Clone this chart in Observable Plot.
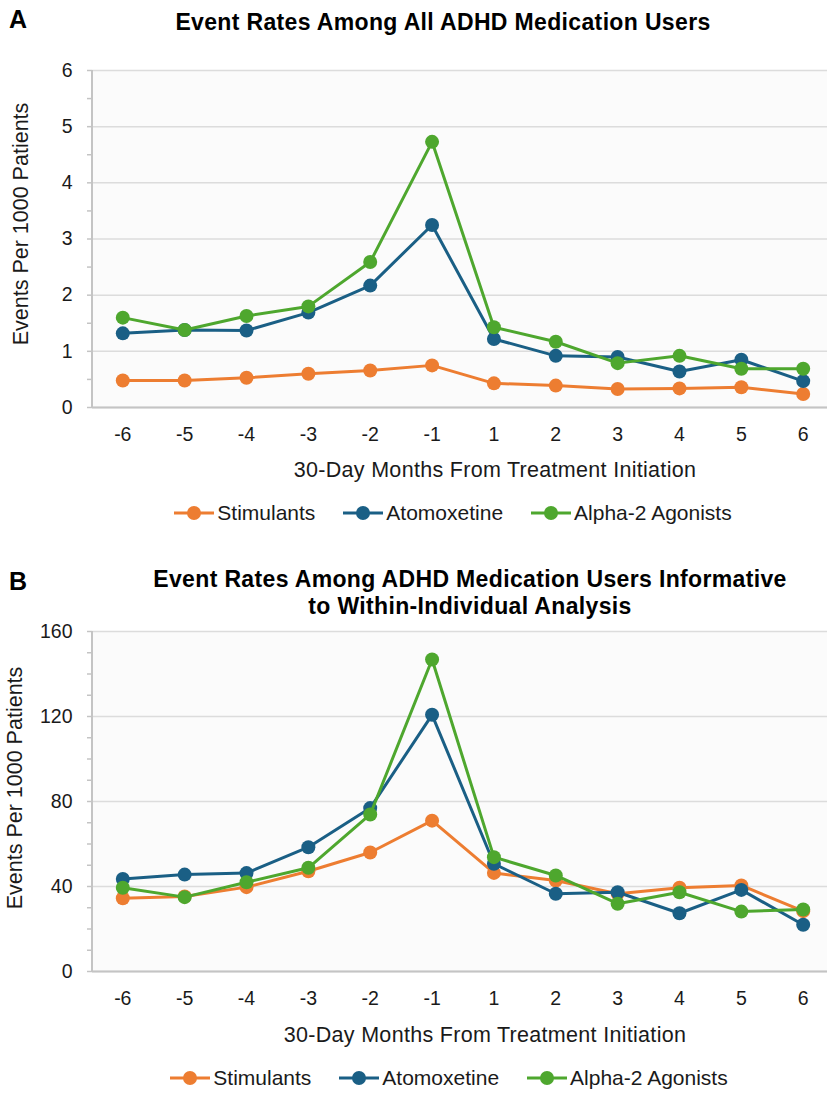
<!DOCTYPE html>
<html><head><meta charset="utf-8">
<script src="https://cdn.jsdelivr.net/npm/d3@7"></script>
<script src="https://cdn.jsdelivr.net/npm/@observablehq/plot@0.6"></script>
<style>
body{margin:0;background:#fff;font-family:"Liberation Sans",Arial,sans-serif;}
#root{position:relative;width:827px;height:1093px;overflow:hidden;background:#fff;}
.abs{position:absolute;line-height:1;white-space:nowrap;color:#111;}
.panelLetter{font-weight:bold;font-size:25px;color:#000;}
.title{font-weight:bold;font-size:23px;letter-spacing:0.35px;text-align:center;color:#000;}
.axt{font-size:21.5px;letter-spacing:0.3px;text-align:center;color:#1a1a1a;}
.ylab{font-size:21.5px;text-align:center;color:#1a1a1a;transform:translate(-50%,-50%) rotate(-90deg);}
.legend{display:flex;justify-content:center;align-items:center;height:24px;font-size:21px;color:#1a1a1a;line-height:24px;}
.legend .item{display:flex;align-items:center;margin:0 14px;}
.legend .item span{margin-left:3px;}
.svgwrap{position:absolute;left:0;}
</style></head><body><div id="root"></div>
<script>
// ---- data ----
const months = ["-6","-5","-4","-3","-2","-1","1","2","3","4","5","6"];
const seriesNames = ["Stimulants","Atomoxetine","Alpha-2 Agonists"];
const seriesColors = ["#ED7D31","#1A5F85","#4EA72E"];

// Panel A: all ADHD medication users
const stimA  = [0.48,0.48,0.53,0.60,0.66,0.75,0.43,0.39,0.33,0.34,0.36,0.24];
const atoA   = [1.32,1.38,1.37,1.69,2.17,3.25,1.22,0.92,0.90,0.64,0.85,0.47];
const alphaA = [1.60,1.38,1.63,1.80,2.59,4.73,1.43,1.17,0.79,0.92,0.69,0.69];

// Panel B: informative to within-individual analysis
const stimB  = [34.5,35.3,39.7,47.2,56.0,71.0,46.4,42.8,36.6,39.4,40.5,28.4];
const atoB   = [43.5,45.6,46.3,58.5,76.9,120.8,50.7,36.6,37.3,27.4,38.4,22.0];
const alphaB = [39.4,35.0,42.0,48.8,73.9,146.8,53.8,45.2,31.9,37.3,28.2,29.2];

const yTicksA = [0,1,2,3,4,5,6];
const yTicksB = [0,40,80,120,160];

const titleA = "Event Rates Among All ADHD Medication Users";
const titleB = ["Event Rates Among ADHD Medication Users Informative","to Within-Individual Analysis"];
const yLabel = "Events Per 1000 Patients";
const xLabel = "30-Day Months From Treatment Initiation";

const root = document.getElementById("root");
function addDiv(cls, text, style) {
  const d = document.createElement("div");
  d.className = "abs " + cls;
  if (Array.isArray(text)) d.innerHTML = text.map(t => `<div>${t}</div>`).join("");
  else d.textContent = text;
  Object.assign(d.style, style);
  root.appendChild(d);
  return d;
}

function legend(top, cx) {
  const d = document.createElement("div");
  d.className = "abs legend";
  Object.assign(d.style, {top: top + "px", left: (cx - 500) + "px", width: "1000px"});
  seriesNames.forEach((n, i) => {
    const it = document.createElement("div");
    it.className = "item";
    it.innerHTML = `<svg width="40" height="16"><line x1="0" x2="40" y1="8" y2="8" stroke="${seriesColors[i]}" stroke-width="3"/><circle cx="20" cy="8" r="7" fill="${seriesColors[i]}"/></svg><span>${n}</span>`;
    d.appendChild(it);
  });
  root.appendChild(d);
}

function panel(valuesList, yDomain, yTicks, minorStep, marginTop, marginBottom, height) {
  const data = valuesList.flatMap((vals, s) => vals.map((v, i) => ({series: seriesNames[s], month: months[i], value: v})));
  const minor = d3.range(yDomain[0], yDomain[1] + minorStep / 2, minorStep);
  const leftLine = (index, scales, values, dims) =>
    d3.create("svg:line")
      .attr("x1", dims.marginLeft).attr("x2", dims.marginLeft)
      .attr("y1", dims.marginTop).attr("y2", dims.height - dims.marginBottom)
      .attr("stroke", "#c4c4c4").attr("stroke-width", 2).node();
  return Plot.plot({
    width: 827, height, marginLeft: 92, marginRight: 0, marginTop, marginBottom,
    style: {fontFamily: '"Liberation Sans", Arial, sans-serif', fontSize: "19px", color: "#1a1a1a", background: "transparent", overflow: "visible"},
    x: {type: "point", domain: months, range: [122.3, 802.7], padding: 0, round: false},
    y: {domain: yDomain},
    marks: [
      Plot.frame({fill: "#fbfbfb", stroke: "none"}),
      Plot.gridY(yTicks, {stroke: "#dcdcdc", strokeOpacity: 1, strokeWidth: 1.5}),
      Plot.axisY(minor, {tickSize: 5, tickFormat: () => "", stroke: "#c4c4c4", strokeWidth: 1.5, label: null}),
      Plot.axisY(yTicks, {tickSize: 0, tickPadding: 20, label: null, fontSize: 19.5, tickFormat: d => String(d)}),
      Plot.axisX({tickSize: 0, tickPadding: 20, label: null, fontSize: 19.5}),
      Plot.ruleY([yDomain[0]], {stroke: "#c4c4c4", strokeWidth: 2}),
      leftLine,
      ...seriesNames.flatMap((name, s) => {
        const d = data.filter(r => r.series === name);
        return [
          Plot.line(d, {x: "month", y: "value", stroke: seriesColors[s], strokeWidth: 3}),
          Plot.dot(d, {x: "month", y: "value", r: 7, fill: seriesColors[s]})
        ];
      })
    ]
  });
}

// ---- Panel A ----
addDiv("panelLetter", "A", {left: "9px", top: "6.8px"});
addDiv("title", titleA, {left: "0px", width: "886px", top: "10.5px"});
const svgA = panel([stimA, atoA, alphaA], [0, 6], yTicksA, 0.5, 20, 43, 400);
const wA = document.createElement("div"); wA.className = "svgwrap"; wA.style.top = "50px"; wA.appendChild(svgA); root.appendChild(wA);
addDiv("ylab", yLabel, {left: "22px", top: "224px"});
addDiv("axt", xLabel, {left: (495 - 400) + "px", width: "800px", top: "459.8px"});
legend(501, 453);

// ---- Panel B ----
addDiv("panelLetter", "B", {left: "9px", top: "568.8px"});
const tB = addDiv("title", titleB, {left: (470 - 443) + "px", width: "886px", top: "565.5px"});
tB.style.lineHeight = "27px";
const svgB = panel([stimB, atoB, alphaB], [0, 160], yTicksB, 10, 21, 39, 400);
const wB = document.createElement("div"); wB.className = "svgwrap"; wB.style.top = "610px"; wB.appendChild(svgB); root.appendChild(wB);
addDiv("ylab", yLabel, {left: "16px", top: "788px"});
addDiv("axt", xLabel, {left: (485 - 400) + "px", width: "800px", top: "1024.8px"});
legend(1066, 449);
</script>
</body></html>
